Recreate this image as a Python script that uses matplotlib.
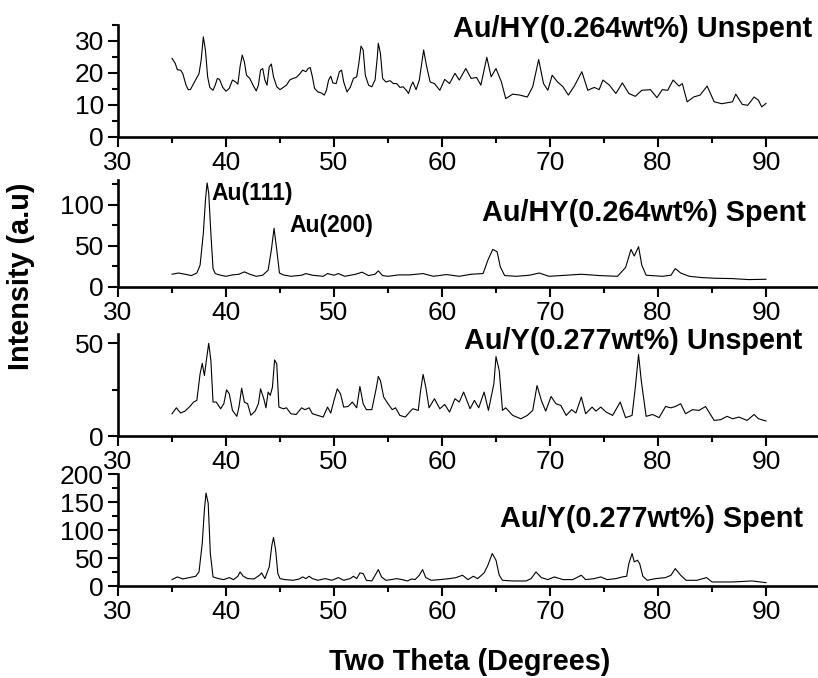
import matplotlib
matplotlib.use("Agg")
import matplotlib.pyplot as plt
from matplotlib.ticker import MultipleLocator

plt.rcParams['font.family'] = ['Liberation Sans', 'DejaVu Sans']

# ---------------- data ----------------
hy_unspent_x = [35.0, 35.3, 35.5, 35.8, 36.0, 36.3, 36.5, 36.7, 37.0, 37.3, 37.5, 37.7, 37.9, 38.1, 38.3, 38.5,
                38.8, 39.0, 39.2, 39.4, 39.7, 40.0, 40.3, 40.6, 40.9, 41.1, 41.3, 41.5, 41.7, 41.9, 42.2, 42.5,
                42.8, 43.0, 43.2, 43.4, 43.6, 43.8, 44.0, 44.2, 44.4, 44.7, 45.0, 45.3, 45.6, 45.9, 46.2, 46.5,
                46.8, 47.1, 47.4, 47.6, 47.8, 48.0, 48.2, 48.5, 48.8, 49.1, 49.3, 49.5, 49.7, 49.9, 50.2, 50.5,
                50.7, 50.9, 51.2, 51.5, 51.8, 52.1, 52.3, 52.5, 52.7, 52.9, 53.2, 53.5, 53.8, 54.0, 54.1, 54.3,
                54.5, 54.8, 55.2, 55.5, 55.8, 56.1, 56.4, 56.7, 56.9, 57.1, 57.3, 57.6, 57.9, 58.3, 58.55, 58.9,
                59.3, 59.8, 60.25, 60.7, 61.2, 61.6, 62.2, 62.7, 63.2, 63.6, 64.15, 64.55, 65.0, 65.5, 65.9, 66.55,
                67.2, 67.9, 68.4, 68.95, 69.4, 69.8, 70.2, 70.7, 71.2, 71.7, 72.25, 72.95, 73.5, 74.1, 74.55, 74.9,
                75.5, 76.1, 76.7, 77.3, 77.9, 78.5, 79.3, 79.9, 80.4, 80.9, 81.4, 81.95, 82.25, 82.7, 83.3, 83.9,
                84.55, 85.2, 85.9, 86.9, 87.2, 87.8, 88.3, 88.9, 89.3, 89.6, 90.0]
hy_unspent_y = [24.6, 23.0, 21.0, 20.9, 19.8, 16.2, 14.8, 14.8, 16.7, 18.6, 19.8, 24.0, 31.3, 27.0, 18.8, 15.5,
                14.6, 16.2, 18.3, 18.0, 15.5, 14.3, 15.2, 17.8, 17.2, 16.5, 21.9, 25.6, 23.5, 19.3, 18.3, 16.2,
                14.4, 16.2, 20.9, 21.4, 17.8, 16.2, 21.9, 22.8, 18.8, 15.7, 14.8, 15.5, 16.2, 17.8, 18.3, 18.6,
                19.6, 20.9, 20.4, 21.4, 21.7, 18.8, 15.2, 14.1, 13.8, 13.1, 14.6, 17.8, 19.0, 16.9, 16.7, 20.4,
                20.9, 17.2, 14.1, 15.5, 18.3, 18.8, 23.0, 28.4, 27.2, 19.3, 16.2, 15.7, 17.8, 24.6, 29.3, 26.1,
                18.3, 17.2, 17.6, 16.7, 16.7, 15.5, 15.7, 14.6, 13.6, 15.7, 17.2, 14.8, 17.8, 27.2, 22.5, 17.2,
                16.7, 14.6, 18.0, 16.7, 19.9, 17.8, 21.4, 18.3, 18.6, 16.2, 24.9, 18.8, 21.4, 17.2, 12.0, 13.4,
                13.1, 12.5, 15.7, 24.2, 16.7, 14.6, 19.3, 17.2, 15.7, 13.1, 15.9, 20.4, 14.6, 15.5, 14.8, 17.8,
                16.2, 13.6, 16.9, 13.6, 12.7, 14.6, 14.8, 12.3, 14.8, 14.6, 17.8, 15.9, 16.7, 11.0, 12.5, 13.1,
                15.9, 11.0, 10.4, 11.0, 13.4, 10.2, 9.9, 12.5, 11.5, 9.4, 10.5]

hy_spent_x = [35.0, 35.6, 36.2, 36.8, 37.3, 37.6, 37.9, 38.1, 38.25, 38.4, 38.6, 38.8, 39.0, 39.5, 40.0, 40.6,
              41.2, 41.7, 42.2, 42.8, 43.4, 43.9, 44.2, 44.45, 44.7, 44.95, 45.3, 46.0, 47.0, 47.4, 48.0, 49.0,
              49.4, 50.0, 50.4, 51.0, 52.0, 52.6, 53.2, 53.8, 54.1, 54.5, 55.0, 56.0, 57.0, 58.25, 59.2, 60.4,
              61.6, 62.7, 63.8, 64.25, 64.7, 65.1, 65.4, 65.8, 66.9, 68.1, 69.0, 69.9, 71.5, 72.9, 74.55, 76.25,
              77.0, 77.5, 77.8, 78.2, 78.5, 78.9, 80.4, 81.2, 81.6, 82.1, 82.9, 84.1, 85.3, 86.9, 88.4, 90.0]
hy_spent_y = [15.5, 17.0, 15.5, 13.9, 17.0, 26.5, 65.0, 106.0, 126.5, 114.0, 65.0, 22.4, 16.3, 14.3, 13.0, 14.7,
              15.5, 18.4, 15.5, 13.0, 14.3, 20.4, 45.0, 71.4, 45.0, 17.0, 14.7, 13.0, 14.3, 16.3, 14.3, 13.0,
              16.3, 14.3, 16.3, 13.0, 15.5, 18.0, 13.9, 15.5, 19.6, 13.9, 13.0, 14.7, 14.7, 16.3, 13.0, 15.1,
              13.0, 15.5, 16.3, 32.7, 45.7, 42.9, 24.5, 13.9, 13.0, 14.3, 17.0, 13.0, 14.3, 15.5, 13.9, 13.0,
              23.7, 45.7, 37.6, 49.0, 26.5, 14.3, 13.0, 14.3, 22.4, 17.0, 13.0, 11.4, 10.6, 10.2, 9.0, 9.4]

y_unspent_x = [35.0, 35.4, 35.8, 36.2, 36.6, 37.0, 37.3, 37.6, 37.8, 38.0, 38.2, 38.4, 38.6, 38.8, 39.1, 39.5,
               39.8, 40.05, 40.3, 40.6, 41.0, 41.2, 41.45, 41.7, 42.0, 42.3, 42.7, 43.0, 43.2, 43.5, 43.7, 43.9,
               44.1, 44.3, 44.5, 44.7, 44.9, 45.3, 45.6, 46.0, 46.5, 47.0, 47.3, 47.7, 48.0, 48.5, 49.0, 49.4,
               49.7, 50.0, 50.3, 50.6, 50.9, 51.3, 51.7, 52.1, 52.4, 52.7, 53.0, 53.5, 53.9, 54.1, 54.3, 54.6,
               55.0, 55.4, 55.7, 56.1, 56.6, 57.0, 57.3, 57.8, 58.0, 58.25, 58.5, 58.8, 59.3, 59.8, 60.25, 60.7,
               61.2, 61.6, 62.0, 62.6, 63.0, 63.4, 63.9, 64.3, 64.8, 65.0, 65.3, 65.6, 65.9, 66.55, 67.3, 67.9,
               68.4, 68.8, 69.2, 69.6, 70.1, 70.55, 71.0, 71.5, 72.0, 72.4, 72.9, 73.3, 73.9, 74.25, 74.7, 75.2,
               75.8, 76.5, 77.0, 77.6, 77.9, 78.2, 78.45, 78.9, 79.5, 80.1, 80.7, 81.2, 81.6, 82.1, 82.55, 83.2,
               83.8, 84.4, 85.2, 85.8, 86.4, 86.9, 87.5, 88.25, 88.9, 89.3, 90.0]
y_unspent_y = [12.0, 15.2, 12.4, 13.4, 15.6, 18.3, 19.2, 33.5, 39.2, 32.6, 41.6, 50.0, 40.7, 18.3, 18.3, 14.7,
               17.4, 24.9, 22.8, 13.8, 10.6, 15.6, 25.8, 18.3, 17.4, 11.2, 13.4, 17.4, 25.4, 20.1, 15.2, 23.7,
               21.9, 26.3, 41.0, 38.9, 15.6, 14.7, 15.2, 12.0, 11.6, 15.2, 14.2, 15.2, 12.0, 11.1, 10.2, 15.6,
               12.4, 19.2, 25.4, 22.8, 15.6, 15.9, 18.3, 15.2, 26.7, 17.4, 14.2, 14.2, 25.4, 32.1, 29.9, 21.0,
               17.4, 14.2, 15.2, 11.1, 10.2, 12.9, 14.7, 13.8, 23.7, 33.2, 26.3, 15.2, 20.1, 14.7, 17.0, 12.9,
               20.1, 18.3, 23.7, 14.7, 19.2, 15.2, 23.7, 13.8, 28.1, 42.8, 35.3, 13.8, 15.2, 11.1, 9.3, 11.1,
               13.8, 27.2, 19.2, 13.4, 21.3, 17.4, 16.5, 11.1, 14.2, 12.4, 21.0, 12.0, 15.6, 13.4, 15.6, 12.9,
               11.1, 18.3, 9.9, 11.1, 26.3, 43.9, 29.9, 10.6, 11.6, 9.9, 15.9, 15.2, 15.9, 17.4, 12.0, 14.2,
               13.8, 15.9, 8.4, 8.8, 10.6, 9.3, 10.2, 8.4, 11.6, 9.3, 8.1]

y_spent_x = [35.0, 35.5, 36.0, 36.6, 37.2, 37.5, 37.8, 38.0, 38.15, 38.35, 38.55, 38.8, 39.3, 39.8, 40.3, 40.7,
             41.1, 41.3, 41.6, 42.0, 42.6, 43.1, 43.3, 43.6, 44.0, 44.25, 44.4, 44.6, 44.8, 45.0, 45.5, 46.2,
             46.8, 47.1, 47.4, 47.7, 48.0, 48.5, 49.2, 49.8, 50.4, 50.9, 51.5, 51.8, 52.1, 52.4, 52.7, 53.0,
             53.5, 53.9, 54.1, 54.4, 54.8, 55.3, 55.8, 56.3, 56.8, 57.2, 57.5, 57.9, 58.2, 58.5, 59.0, 59.8,
             60.7, 61.3, 61.9, 62.4, 62.9, 63.3, 63.9, 64.25, 64.65, 65.0, 65.3, 65.6, 66.55, 67.8, 68.25, 68.7,
             69.2, 69.8, 70.4, 71.2, 72.1, 72.9, 73.3, 74.1, 74.7, 75.3, 76.1, 76.7, 77.1, 77.3, 77.6, 77.8,
             78.1, 78.3, 78.6, 79.0, 79.8, 80.7, 81.2, 81.6, 82.1, 82.6, 83.6, 84.5, 85.0, 86.9, 88.7, 90.0]
y_spent_y = [11.4, 16.2, 12.6, 15.0, 17.4, 25.1, 76.0, 136.0, 166.0, 148.0, 58.0, 16.2, 13.2, 11.4, 15.0, 11.4,
             17.4, 25.1, 17.4, 13.2, 12.6, 19.2, 23.4, 13.2, 34.0, 73.0, 86.8, 64.0, 22.2, 13.2, 11.4, 10.2,
             12.6, 16.2, 13.2, 17.4, 13.2, 10.2, 13.2, 10.2, 15.0, 10.2, 13.2, 17.4, 13.2, 23.4, 22.2, 10.2,
             9.0, 22.2, 29.3, 16.2, 10.2, 11.4, 13.2, 11.4, 9.0, 12.6, 11.4, 19.2, 29.3, 15.0, 10.2, 11.4,
             13.2, 15.0, 19.2, 11.4, 17.4, 13.2, 23.4, 37.1, 58.0, 46.0, 19.2, 10.2, 9.0, 9.0, 13.2, 25.1,
             15.0, 11.4, 16.2, 11.4, 11.4, 19.2, 11.4, 13.2, 16.2, 11.4, 13.2, 16.2, 17.4, 40.0, 58.0, 43.0,
             46.0, 40.0, 17.4, 10.2, 13.2, 15.0, 19.2, 31.1, 19.2, 10.2, 10.2, 15.0, 7.2, 7.2, 9.0, 6.0]

series_x = [hy_unspent_x, hy_spent_x, y_unspent_x, y_spent_x]
series_y = [hy_unspent_y, hy_spent_y, y_unspent_y, y_spent_y]
titles = ["Au/HY(0.264wt%) Unspent", "Au/HY(0.264wt%) Spent",
          "Au/Y(0.277wt%) Unspent", "Au/Y(0.277wt%) Spent"]
y_max = [35, 130, 55, 200]
y_major = [10, 50, 50, 50]
y_minor = [5, 25, 25, 25]
x_ticks = [30, 40, 50, 60, 70, 80, 90]
peak_labels = ["Au(111)", "Au(200)"]
peak_label_pos = [(38.65, 114), (45.9, 75)]

# ---------------- layout ----------------
W, H = 818, 678
fig = plt.figure(figsize=(W / 100, H / 100), dpi=100)

# (top_px, bottom_px) for each panel
panel_px = [(25, 137), (180, 287), (334, 436), (474, 586)]
left_px, right_px = 118, 820

title_pos = [(812, 29), (806, 213), (802, 341), (803, 519)]

for i in range(4):
    top, bot = panel_px[i]
    ax = fig.add_axes([left_px / W, 1 - bot / H, (right_px - left_px) / W, (bot - top) / H])
    ax.plot(series_x[i], series_y[i], color='black', lw=0.8)
    ax.set_xlim(30, 95)
    ax.set_ylim(0, y_max[i])
    ax.set_xticks(x_ticks)
    ax.xaxis.set_minor_locator(MultipleLocator(5))
    ax.yaxis.set_major_locator(MultipleLocator(y_major[i]))
    ax.yaxis.set_minor_locator(MultipleLocator(y_minor[i]))
    for s in ['top', 'right']:
        ax.spines[s].set_visible(False)
    for s in ['left', 'bottom']:
        ax.spines[s].set_linewidth(1.9)
    ax.tick_params(which='major', direction='out', length=7, width=1.5, labelsize=19, pad=3)
    ax.tick_params(which='minor', direction='out', length=4, width=1.5)
    ax.patch.set_alpha(0)
    if i == 1:
        for lbl, (lx, ly) in zip(peak_labels, peak_label_pos):
            ax.text(lx, ly, lbl, fontsize=16.5, fontweight='bold', ha='left', va='center')

for t, (tx, ty) in zip(titles, title_pos):
    fig.text(tx / W, 1 - ty / H, t, fontsize=20.8, fontweight='bold', ha='right', va='center')

fig.text(470 / W, 1 - 662 / H, "Two Theta (Degrees)", fontsize=20.8, fontweight='bold',
         ha='center', va='center')
fig.text(21 / W, 1 - 276 / H, "Intensity (a.u)", fontsize=20.8, fontweight='bold',
         ha='center', va='center', rotation=90)

fig.savefig("out.png", dpi=100)
